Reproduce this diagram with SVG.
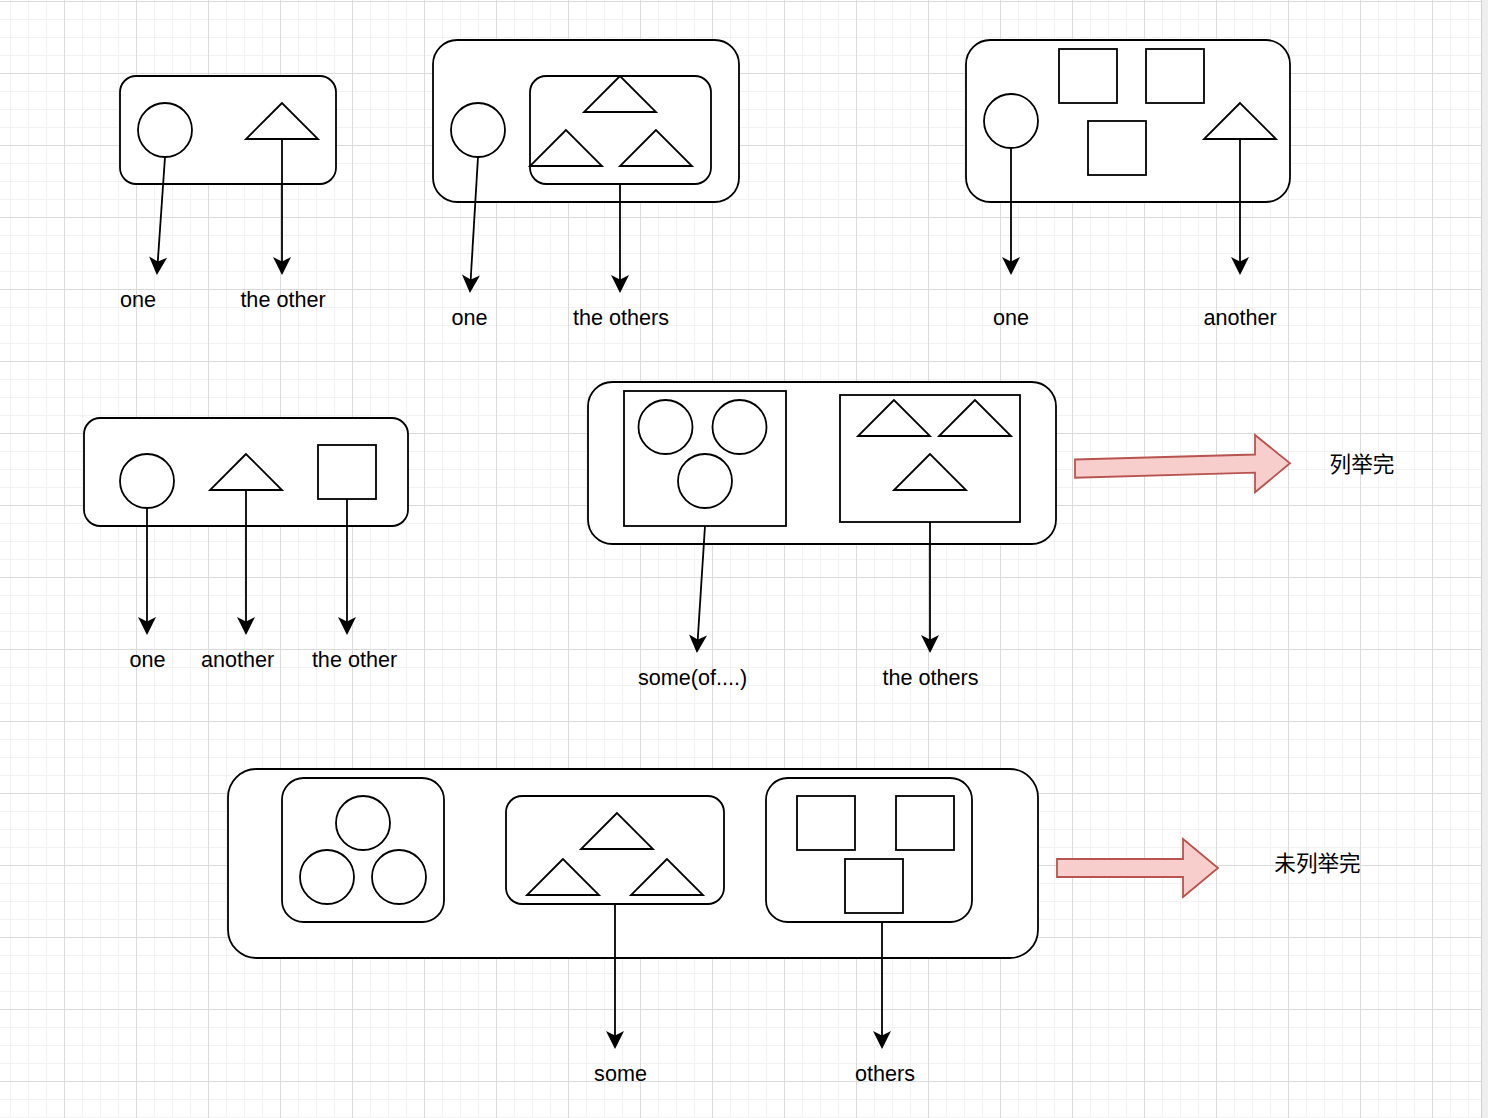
<svg xmlns="http://www.w3.org/2000/svg" width="1488" height="1118" viewBox="0 0 1488 1118">
  <defs>
    <pattern id="grid" patternUnits="userSpaceOnUse" x="-8" y="1" width="72" height="72">
      <path d="M18.5,0V72M36.5,0V72M54.5,0V72M0,18.5H72M0,36.5H72M0,54.5H72" stroke="#f2f2f2" stroke-width="1" fill="none"/>
      <path d="M0.5,0V72M0,0.5H72" stroke="#dadada" stroke-width="1" fill="none"/>
    </pattern>
    <marker id="arr" markerUnits="userSpaceOnUse" viewBox="-6 -9 18 18" refX="0" refY="0" markerWidth="18" markerHeight="18" orient="auto" overflow="visible">
      <path d="M10,0 L-4,-7 L-0.5,0 L-4,7 Z" fill="#000" stroke="#000" stroke-width="1.8" stroke-linejoin="miter"/>
    </marker>
    <style>
      .s { fill: #fff; stroke: #000; stroke-width: 1.8; }
      .e { fill: none; stroke: #000; stroke-width: 1.8; marker-end: url(#arr); }
      .t { font-family: "Liberation Sans", Arial, sans-serif; font-size: 21.6px; fill: #000; text-anchor: middle; }
      .c { font-family: "Noto Sans CJK SC", "Noto Sans", sans-serif; font-size: 21.6px; fill: #000; text-anchor: middle; }
      .red { fill: #f8cecc; stroke: #b85450; stroke-width: 1.8; stroke-linejoin: miter; }
    </style>
  </defs>

  <rect x="0" y="0" width="1481" height="1118" fill="#fff"/>
  <rect x="0" y="0" width="1481" height="1118" fill="url(#grid)"/>
  <rect x="1481" y="0" width="7" height="1118" fill="#efefef"/>
  <line x1="1481.5" y1="0" x2="1481.5" y2="1118" stroke="#cfcfcf" stroke-width="1"/>

  <g id="group1">
    <rect class="s" x="120" y="76" width="216" height="108" rx="16.2"/>
    <circle class="s" cx="165" cy="130" r="27"/>
    <polygon class="s" points="282,103 246,139 318,139"/>
  </g>

  <g id="group2">
    <rect class="s" x="433" y="40" width="306" height="162" rx="24.3"/>
    <rect class="s" x="530" y="76" width="181" height="108" rx="16.2"/>
    <circle class="s" cx="478" cy="130" r="27"/>
    <polygon class="s" points="620,76 584,112 656,112"/>
    <polygon class="s" points="566,130 530,166 602,166"/>
    <polygon class="s" points="656,130 620,166 692,166"/>
  </g>

  <g id="group3">
    <rect class="s" x="966" y="40" width="324" height="162" rx="24.3"/>
    <circle class="s" cx="1011" cy="121" r="27"/>
    <rect class="s" x="1059" y="49" width="58" height="54"/>
    <rect class="s" x="1146" y="49" width="58" height="54"/>
    <rect class="s" x="1088" y="121" width="58" height="54"/>
    <polygon class="s" points="1240,103 1204,139 1276,139"/>
  </g>

  <g id="group4">
    <rect class="s" x="84" y="418" width="324" height="108" rx="16.2"/>
    <circle class="s" cx="147" cy="481" r="27"/>
    <polygon class="s" points="246,454 210,490 282,490"/>
    <rect class="s" x="318" y="445" width="58" height="54"/>
  </g>

  <g id="group5">
    <rect class="s" x="588" y="382" width="468" height="162" rx="24.3"/>
    <rect class="s" x="624" y="391" width="162" height="135"/>
    <circle class="s" cx="665.5" cy="427" r="27"/>
    <circle class="s" cx="739.5" cy="427" r="27"/>
    <circle class="s" cx="705" cy="481" r="27"/>
    <rect class="s" x="840" y="395" width="180" height="127"/>
    <polygon class="s" points="894,400 858,436 930,436"/>
    <polygon class="s" points="975,400 939,436 1011,436"/>
    <polygon class="s" points="930,454 894,490 966,490"/>
  </g>

  <g id="group6">
    <rect class="s" x="228" y="769" width="810" height="189" rx="28.35"/>
    <rect class="s" x="282" y="778" width="162" height="144" rx="21.6"/>
    <circle class="s" cx="363" cy="823" r="27"/>
    <circle class="s" cx="327" cy="877" r="27"/>
    <circle class="s" cx="399" cy="877" r="27"/>
    <rect class="s" x="506" y="796" width="218" height="108" rx="16.2"/>
    <polygon class="s" points="617,813 581,849 653,849"/>
    <polygon class="s" points="563,859 527,895 599,895"/>
    <polygon class="s" points="667,859 631,895 703,895"/>
    <rect class="s" x="766" y="778" width="206" height="144" rx="21.6"/>
    <rect class="s" x="797" y="796" width="58" height="54"/>
    <rect class="s" x="896" y="796" width="58" height="54"/>
    <rect class="s" x="845" y="859" width="58" height="54"/>
  </g>

  <g id="bigArrow1">
    <polygon class="red" points="1075,459.5 1255,454.5 1255,435 1290,463.3 1255,492.3 1255,472.7 1075,477.7"/>
  </g>
  <g id="bigArrow2">
    <polygon class="red" points="1057,859 1183,859 1183,839 1218,868 1183,897 1183,877 1057,877"/>
  </g>

  <g id="connectors">
    <path class="e" d="M165,157 L157.69,263.02"/>
    <path class="e" d="M282,139 L282,263"/>
    <path class="e" d="M478,157 L470.6,281"/>
    <path class="e" d="M620,184 L620,281"/>
    <path class="e" d="M1011,148 L1011,263"/>
    <path class="e" d="M1240,139 L1240,263"/>
    <path class="e" d="M147,508 L147,623"/>
    <path class="e" d="M246,490 L246,623"/>
    <path class="e" d="M347,499 L347,623"/>
    <path class="e" d="M705,526 L697.64,641"/>
    <path class="e" d="M930,522 L930,641"/>
    <path class="e" d="M615,904 L615,1037"/>
    <path class="e" d="M882,922 L882,1037"/>
  </g>

  <g id="label-d1-one"><text class="t" x="138" y="307">one</text></g>
  <g id="label-d1-theother"><text class="t" x="283" y="307">the other</text></g>
  <g id="label-d2-one"><text class="t" x="469.5" y="325">one</text></g>
  <g id="label-d2-theothers"><text class="t" x="621" y="325">the others</text></g>
  <g id="label-d3-one"><text class="t" x="1011" y="325">one</text></g>
  <g id="label-d3-another"><text class="t" x="1240" y="325">another</text></g>
  <g id="label-d4-one"><text class="t" x="147.5" y="667">one</text></g>
  <g id="label-d4-another"><text class="t" x="237.5" y="667">another</text></g>
  <g id="label-d4-theother"><text class="t" x="354.5" y="667">the other</text></g>
  <g id="label-d5-some"><text class="t" x="692.5" y="685">some(of....)</text></g>
  <g id="label-d5-theothers"><text class="t" x="930.5" y="685">the others</text></g>
  <g id="label-d6-some"><text class="t" x="620.5" y="1081">some</text></g>
  <g id="label-d6-others"><text class="t" x="885" y="1081">others</text></g>
  <g id="label-enumerated"><text class="c" x="1362" y="471.5">列举完</text></g>
  <g id="label-notenumerated"><text class="c" x="1317.5" y="871">未列举完</text></g>
</svg>
